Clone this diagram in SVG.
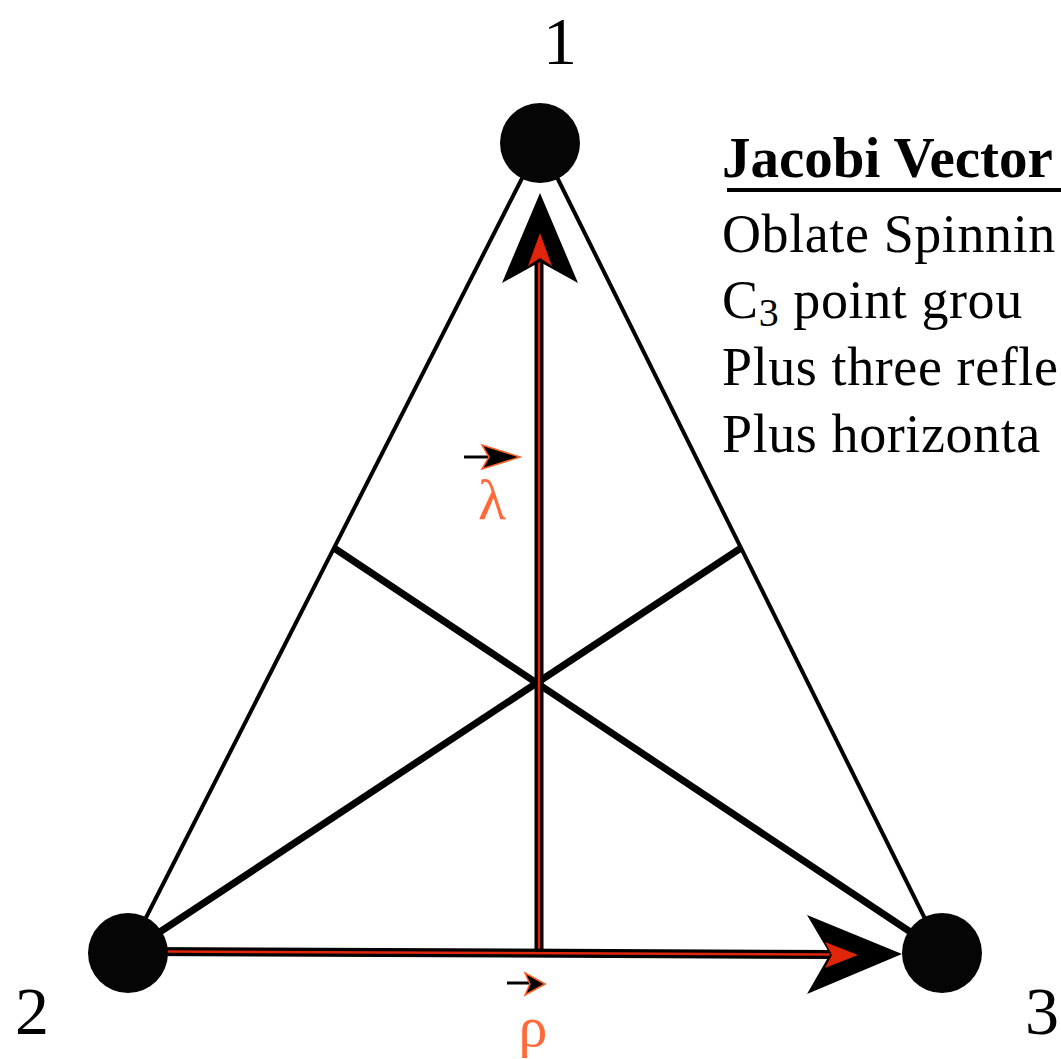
<svg xmlns="http://www.w3.org/2000/svg" width="1061" height="1059" viewBox="0 0 1061 1059">
<style>
.side{stroke:#000;stroke-width:4;fill:none}
.med{stroke:#000;stroke-width:7;fill:none}
.vec{stroke:#000;stroke-width:9;fill:none}
.core{stroke:#e0250a;stroke-width:2.5;fill:none}
.node{fill:#050505}
.num{font-family:"Liberation Serif",serif;font-size:68px;fill:#000}
.greek{font-family:"Liberation Serif",serif;font-size:58px;fill:#ff6a3a}
.txt{font-family:"Liberation Serif",serif;font-size:54px;letter-spacing:0.6px;fill:#000}
.ttl{font-family:"Liberation Serif",serif;font-size:57px;font-weight:bold;fill:#000}
</style>
<rect width="1061" height="1059" fill="#fff"/>
<g id="connectors">
<line class="side" x1="540" y1="143" x2="128" y2="953"/>
<line class="side" x1="540" y1="143" x2="942" y2="953"/>
<line class="med" x1="128" y1="953" x2="741" y2="548"/>
<line class="med" x1="942" y1="953" x2="334" y2="548"/>
<line class="vec" x1="539" y1="953" x2="539" y2="230"/>
<line class="core" x1="539" y1="953" x2="539" y2="240"/>
<line class="vec" x1="140" y1="951.5" x2="840" y2="954.5"/>
<line class="core" x1="165" y1="951.5" x2="830" y2="954.5"/>
<polygon points="540,193 578,283 540,262 502,283" fill="#000"/>
<polygon points="540,233 552,266 540,258 528,266" fill="#e0250a"/>
<polygon points="902,954 807,994 830,954 807,915" fill="#000"/>
<polygon points="858,955 825,968 832,955 825,942" fill="#e0250a"/>
</g>
<g id="node1"><circle class="node" cx="540" cy="143" r="40"/><text class="num" x="560" y="64" text-anchor="middle">1</text></g>
<g id="node2"><circle class="node" cx="128" cy="953" r="40"/><text class="num" x="32" y="1034" text-anchor="middle">2</text></g>
<g id="node3"><circle class="node" cx="942" cy="953" r="40"/><text class="num" x="1042" y="1034" text-anchor="middle">3</text></g>
<g id="lambda">
<line x1="464" y1="457" x2="492" y2="457" stroke="#000" stroke-width="3"/>
<polygon points="520,457 482,469 489,457 482,445" fill="#000" stroke="#ff5a1f" stroke-width="1.5"/>
<text class="greek" x="492" y="519" text-anchor="middle">λ</text>
</g>
<g id="rho">
<line x1="507" y1="983" x2="530" y2="983" stroke="#000" stroke-width="3"/>
<polygon points="545,984 525,995 530,984 525,973" fill="#000" stroke="#ff5a1f" stroke-width="1.5"/>
<text class="greek" x="533" y="1046" text-anchor="middle">ρ</text>
</g>
<g id="legend">
<text class="ttl" x="722" y="177">Jacobi Vector</text>
<line x1="727" y1="190" x2="1061" y2="190" stroke="#000" stroke-width="4"/>
<text class="txt" x="722" y="252">Oblate Spinnin</text>
<text class="txt" x="722" y="318">C<tspan font-size="40" dy="8">3</tspan><tspan dy="-8"> point grou</tspan></text>
<text class="txt" x="722" y="385">Plus three refle</text>
<text class="txt" x="722" y="452">Plus horizonta</text>
</g>
</svg>
